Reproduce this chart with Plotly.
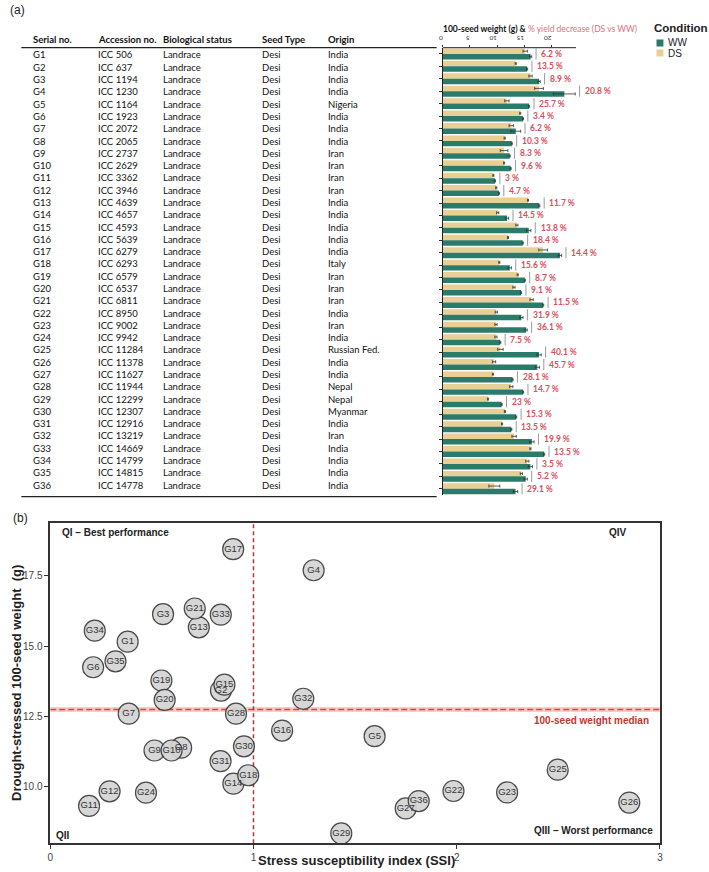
import plotly.graph_objects as go

# ---------------- data ----------------
serial = ["G1","G2","G3","G4","G5","G6","G7","G8","G9","G10","G11","G12","G13","G14","G15","G16","G17","G18",
          "G19","G20","G21","G22","G23","G24","G25","G26","G27","G28","G29","G30","G31","G32","G33","G34","G35","G36"]
accession = ["ICC 506","ICC 637","ICC 1194","ICC 1230","ICC 1164","ICC 1923","ICC 2072","ICC 2065","ICC 2737",
             "ICC 2629","ICC 3362","ICC 3946","ICC 4639","ICC 4657","ICC 4593","ICC 5639","ICC 6279","ICC 6293",
             "ICC 6579","ICC 6537","ICC 6811","ICC 8950","ICC 9002","ICC 9942","ICC 11284","ICC 11378","ICC 11627",
             "ICC 11944","ICC 12299","ICC 12307","ICC 12916","ICC 13219","ICC 14669","ICC 14799","ICC 14815","ICC 14778"]
bio_status = ["Landrace"] * 36
seed_type = ["Desi"] * 36
origin = ["India","India","India","India","Nigeria","India","India","India","Iran","Iran","Iran","Iran","India",
          "India","India","India","India","Italy","Iran","Iran","Iran","India","Iran","India","Russian Fed.","India",
          "India","Nepal","Nepal","Myanmar","India","Iran","India","India","India","India"]

ds_weight = [15.16,13.42,16.14,17.70,11.80,14.25,12.60,11.39,11.29,11.29,9.32,9.84,15.67,10.11,13.63,12.00,18.45,10.41,
             13.78,13.09,16.34,9.85,9.80,9.79,10.61,9.44,9.23,12.60,8.34,11.44,10.91,13.13,16.12,15.55,14.46,9.49]
ww_weight = [16.16,15.51,17.72,22.35,15.88,14.75,13.43,12.70,12.31,12.49,9.61,10.33,17.75,11.82,15.81,14.71,21.55,12.33,
             15.09,14.40,18.46,14.46,15.34,10.58,17.71,17.38,12.84,14.77,10.83,13.51,12.61,16.39,18.64,16.11,15.25,13.39]
ds_err = [0.4,0.1,0.3,0.8,0.4,0.1,0.4,0.1,0.7,0.1,0.1,0.1,0.1,0.2,0.2,0.1,0.8,0.1,
          0.1,0.2,0.3,0.2,0.2,0.2,0.5,0.3,0.1,0.3,0.1,0.1,0.1,0.4,0.1,0.3,0.2,1.0]
ww_err = [0.2,0.1,0.2,2.0,0.1,0.1,0.9,0.1,0.1,0.1,0.1,0.1,0.1,0.3,0.4,0.1,0.3,0.3,
          0.1,0.1,0.1,0.3,0.2,0.1,0.4,0.4,0.1,0.1,0.1,0.1,0.1,0.4,0.1,0.4,0.3,0.4]
pct_decrease = [6.2,13.5,8.9,20.8,25.7,3.4,6.2,10.3,8.3,9.6,3,4.7,11.7,14.5,13.8,18.4,14.4,15.6,
                8.7,9.1,11.5,31.9,36.1,7.5,40.1,45.7,28.1,14.7,23,15.3,13.5,19.9,13.5,3.5,5.2,29.1]
ssi = [0.381,0.840,0.555,1.296,1.596,0.211,0.386,0.644,0.513,0.597,0.191,0.292,0.731,0.901,0.857,1.141,0.900,0.974,
       0.547,0.563,0.711,1.984,2.248,0.471,2.497,2.849,1.749,0.914,1.432,0.953,0.838,1.245,0.839,0.219,0.321,1.813]
weight_median = 12.75
ssi_threshold = 1.0
bar_ticks = [0, 5, 10, 15, 20]
ssi_ticks = [0, 1, 2, 3]
wt_ticks = [10.0, 12.5, 15.0, 17.5]

# ---------------- style ----------------
W, H = 709, 872
GREEN = "#2b7b6a"
TAN = "#e8cf93"
RED_TXT = "#d8505c"
TABLE_FONT = "Lato"
SC_FONT = "Liberation Sans"
BAR_PX_PER_UNIT = 5.5
BAR_X0_PX = 443
BAR_RANGE = 40
BAR_LINE_END = 24.5

def px(xp):
    return xp / W

def py(yp):
    return 1 - yp / H

n = len(serial)
idx = list(range(n))

fig = go.Figure()

# ---------------- panel (a) bars ----------------
fig.add_trace(go.Bar(
    y=idx, x=ds_weight, orientation="h", name="DS", marker=dict(color=TAN, line=dict(width=0)),
    error_x=dict(type="data", array=ds_err, color="#333", thickness=0.8, width=1.5),
    xaxis="x", yaxis="y", showlegend=False))
fig.add_trace(go.Bar(
    y=idx, x=ww_weight, orientation="h", name="WW", marker=dict(color=GREEN, line=dict(width=0)),
    error_x=dict(type="data", array=ww_err, color="#333", thickness=0.8, width=1.5),
    xaxis="x", yaxis="y", showlegend=False))

shapes = []
annotations = []

for i in idx:
    top = max(ds_weight[i] + ds_err[i], ww_weight[i] + ww_err[i])
    sep = top + 0.8
    shapes.append(dict(type="line", xref="x", yref="y", x0=sep, x1=sep, y0=i - 0.45, y1=i + 0.45,
                       line=dict(color="#9a9a9a", width=1)))
    annotations.append(dict(xref="x", yref="y", x=sep + 0.6, y=i, text="<b>%g %%</b>" % pct_decrease[i],
                            showarrow=False, xanchor="left", yanchor="middle",
                            font=dict(family=TABLE_FONT, size=8.5, color=RED_TXT)))

# top axis line of the bar panel (short, like the reference)
shapes.append(dict(type="line", xref="x", yref="paper", x0=0, x1=BAR_LINE_END, y0=py(47.7), y1=py(47.7),
                   line=dict(color="#222", width=1)))

# bar chart title
annotations.append(dict(xref="paper", yref="paper", x=px(441), y=py(29),
                        text="<b>100-seed weight (g) &amp;</b> <span style='color:#e07080'>% yield decrease (DS vs WW)</span>",
                        showarrow=False, xanchor="left", yanchor="middle",
                        font=dict(family=TABLE_FONT, size=8.5, color="#111")))

# manual legend
annotations.append(dict(xref="paper", yref="paper", x=px(654), y=py(28), text="<b>Condition</b>",
                        showarrow=False, xanchor="left", yanchor="middle",
                        font=dict(family=SC_FONT, size=11.5, color="#222")))
for k, (lab, col) in enumerate([("WW", GREEN), ("DS", TAN)]):
    yc = 43 + k * 10
    shapes.append(dict(type="rect", xref="paper", yref="paper", x0=px(659), x1=px(666),
                       y0=py(yc + 3.5), y1=py(yc - 3.5), fillcolor=col, line=dict(width=0)))
    annotations.append(dict(xref="paper", yref="paper", x=px(669), y=py(yc), text=lab,
                            showarrow=False, xanchor="left", yanchor="middle",
                            font=dict(family=SC_FONT, size=10, color="#222")))

# ---------------- table ----------------
col_x = [27, 92.5, 159, 258.5, 325]
headers = ["Serial no.", "Accession no.", "Biological status", "Seed Type", "Origin"]
for cx, htxt in zip(col_x, headers):
    annotations.append(dict(xref="paper", yref="paper", x=px(cx), y=py(40), text="<b>%s</b>" % htxt,
                            showarrow=False, xanchor="left", yanchor="middle",
                            font=dict(family=TABLE_FONT, size=9.5, color="#111")))
row_step = 12.29
for i in idx:
    yr = 55 + i * row_step
    for cx, txt in zip(col_x, [serial[i], accession[i], bio_status[i], seed_type[i], origin[i]]):
        annotations.append(dict(xref="paper", yref="paper", x=px(cx), y=py(yr), text=txt,
                                showarrow=False, xanchor="left", yanchor="middle",
                                font=dict(family=TABLE_FONT, size=9.5, color="#111")))
shapes.append(dict(type="line", xref="paper", yref="paper", x0=px(17.5), x1=px(437), y0=py(47.7), y1=py(47.7),
                   line=dict(color="#222", width=1.2)))
shapes.append(dict(type="line", xref="paper", yref="paper", x0=px(17.5), x1=px(437), y0=py(496.7), y1=py(496.7),
                   line=dict(color="#222", width=1.2)))

# panel labels
annotations.append(dict(xref="paper", yref="paper", x=px(4), y=py(10), text="(a)", showarrow=False,
                        xanchor="left", yanchor="middle", font=dict(family=SC_FONT, size=12, color="#222")))
annotations.append(dict(xref="paper", yref="paper", x=px(7), y=py(518), text="(b)", showarrow=False,
                        xanchor="left", yanchor="middle", font=dict(family=SC_FONT, size=12, color="#222")))

# ---------------- panel (b) scatter ----------------
Y0, Y1 = 7.99, 19.37
shapes.append(dict(type="rect", xref="x2", yref="y2", x0=0, x1=3, y0=weight_median - 0.09, y1=weight_median + 0.09,
                   fillcolor="rgba(240,110,100,0.35)", line=dict(width=0), layer="below"))
shapes.append(dict(type="line", xref="x2", yref="y2", x0=0, x1=3, y0=weight_median, y1=weight_median,
                   line=dict(color="#e0403a", width=1.5, dash="6px,3px"), layer="below"))
shapes.append(dict(type="line", xref="x2", yref="y2", x0=ssi_threshold, x1=ssi_threshold, y0=Y0, y1=Y1,
                   line=dict(color="#b83232", width=1.5, dash="4px,3px"), layer="below"))

fig.add_trace(go.Scatter(
    x=ssi, y=ds_weight, mode="markers+text", text=serial, textposition="middle center",
    marker=dict(size=21, color="#d4d4d4", opacity=0.92, line=dict(color="#3a3a3a", width=1.2)),
    textfont=dict(family=SC_FONT, size=9.5, color="#333"),
    xaxis="x2", yaxis="y2", showlegend=False, cliponaxis=False))

# quadrant labels
for txt, xx, yy, anc in [("<b>QI – Best performance</b>", 57, 532, "left"),
                         ("<b>QIV</b>", 620, 532.5, "center"),
                         ("<b>QII</b>", 50, 835, "left"),
                         ("<b>QIII – Worst performance</b>", 657.5, 830.5, "right")]:
    annotations.append(dict(xref="paper", yref="paper", x=px(xx), y=py(yy), text=txt, showarrow=False,
                            xanchor=anc, yanchor="middle", font=dict(family=SC_FONT, size=10, color="#222")))
annotations.append(dict(xref="paper", yref="paper", x=px(653.5), y=py(720), text="<b>100-seed weight median</b>",
                        showarrow=False, xanchor="right", yanchor="middle",
                        font=dict(family=SC_FONT, size=10, color="#c8352e")))
# axis titles
annotations.append(dict(xref="paper", yref="paper", x=px(356), y=py(860),
                        text="<b>Stress susceptibility index (SSI)</b>", showarrow=False,
                        xanchor="center", yanchor="middle", font=dict(family=SC_FONT, size=13, color="#222")))
annotations.append(dict(xref="paper", yref="paper", x=px(12), y=py(683),
                        text="<b>Drought-stressed 100-seed weight  (g)</b>", showarrow=False, textangle=-90,
                        xanchor="center", yanchor="middle", font=dict(family=SC_FONT, size=13, color="#222")))

fig.update_layout(
    width=W, height=H, margin=dict(l=0, r=0, t=0, b=0),
    paper_bgcolor="white", plot_bgcolor="rgba(0,0,0,0)",
    barmode="group", bargap=0.12, bargroupgap=0.0,
    shapes=shapes, annotations=annotations, showlegend=False,
    xaxis=dict(domain=[px(BAR_X0_PX), px(BAR_X0_PX + BAR_RANGE * BAR_PX_PER_UNIT)], range=[0, BAR_RANGE],
               side="top", anchor="y",
               tickvals=bar_ticks, ticks="outside", ticklen=2, tickcolor="#333", tickangle=180,
               tickfont=dict(family=TABLE_FONT, size=6.5, color="#333"),
               showline=False, showgrid=False, zeroline=False),
    yaxis=dict(domain=[py(495), py(47.7)], range=[n - 0.5, -0.5], anchor="x",
               tickvals=idx, ticktext=[""] * n, ticks="outside", ticklen=3, tickcolor="#333",
               showline=True, linecolor="#222", linewidth=1, showgrid=False, zeroline=False),
    xaxis2=dict(domain=[px(46.7), px(662.5)], range=[0, 3], anchor="y2",
                tickvals=ssi_ticks, ticks="outside", ticklen=4, tickcolor="#333",
                tickfont=dict(family=SC_FONT, size=10, color="#444"),
                showline=True, mirror=True, linecolor="#333", linewidth=1.5, showgrid=False, zeroline=False),
    yaxis2=dict(domain=[py(843.3), py(523.3)], range=[Y0, Y1], anchor="x2",
                tickvals=wt_ticks, ticktext=["%.1f" % v for v in wt_ticks], ticks="outside", ticklen=4,
                tickcolor="#333", tickfont=dict(family=SC_FONT, size=10, color="#444"),
                showline=True, mirror=True, linecolor="#333", linewidth=1.5, showgrid=False, zeroline=False),
)

fig.write_html("out.html", config={"displayModeBar": False},
               post_script="document.body.style.margin='0';document.body.style.overflow='hidden';")
